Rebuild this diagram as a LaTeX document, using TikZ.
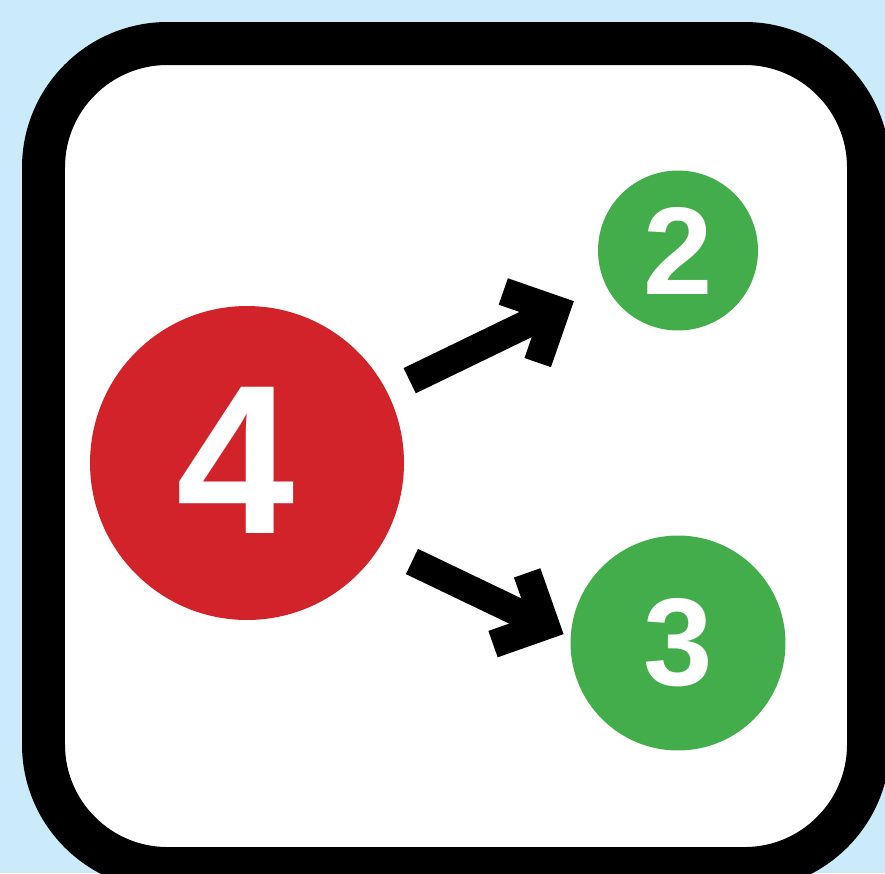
\documentclass[tikz,border=0pt]{standalone}
\usepackage{fontspec}
\setmainfont{Liberation Sans}
\usepackage{xcolor}
\usepackage{tikz}
\usetikzlibrary{arrows.meta}
\usetikzlibrary{positioning}

\definecolor{sfondo}{HTML}{CCEBFA}
\definecolor{rosso}{HTML}{D2232A}
\definecolor{verde}{HTML}{42AD4A}

\begin{document}
\begin{tikzpicture}[
      x=0.02cm, y=-0.02cm,
      nodo/.style={circle, inner sep=0pt, text=white, font=\bfseries},
      freccia/.style={line width=0.56cm,
        -{Straight Barb[length=0.79cm, width=1.58cm, line cap=butt, line join=miter]}}
    ]
    % Sfondo e cornice
    \fill[sfondo] (0,0) rectangle (885,873);
    \useasboundingbox (0,0) rectangle (885,873);
    \draw[line width=0.86cm, rounded corners=2.48cm, fill=white] (43.5,43.5) rectangle (868.5,868.5);

    % Nodi
    \node[nodo, fill=rosso, minimum size=6.28cm, font=\bfseries\fontsize{121}{121}\selectfont] (quattro) at (247,463) {\raisebox{0.1cm}{4}\kern0.44cm};
    \node[nodo, fill=verde, minimum size=3.2cm, font=\bfseries\fontsize{71}{71}\selectfont] (due) at (678,250.5) {2};
    \node[nodo, fill=verde, minimum size=4.3cm, font=\bfseries\fontsize{71}{71}\selectfont] (tre) at (678,643) {3};

    % Frecce
    \draw[freccia, shorten <=0.5cm, shorten >=0.71cm] (quattro.27) -- (due.206);
    \draw[freccia, shorten <=0.7cm, shorten >=0.15cm] (quattro.-32) -- (tre.177);
  \end{tikzpicture}
\end{document}
